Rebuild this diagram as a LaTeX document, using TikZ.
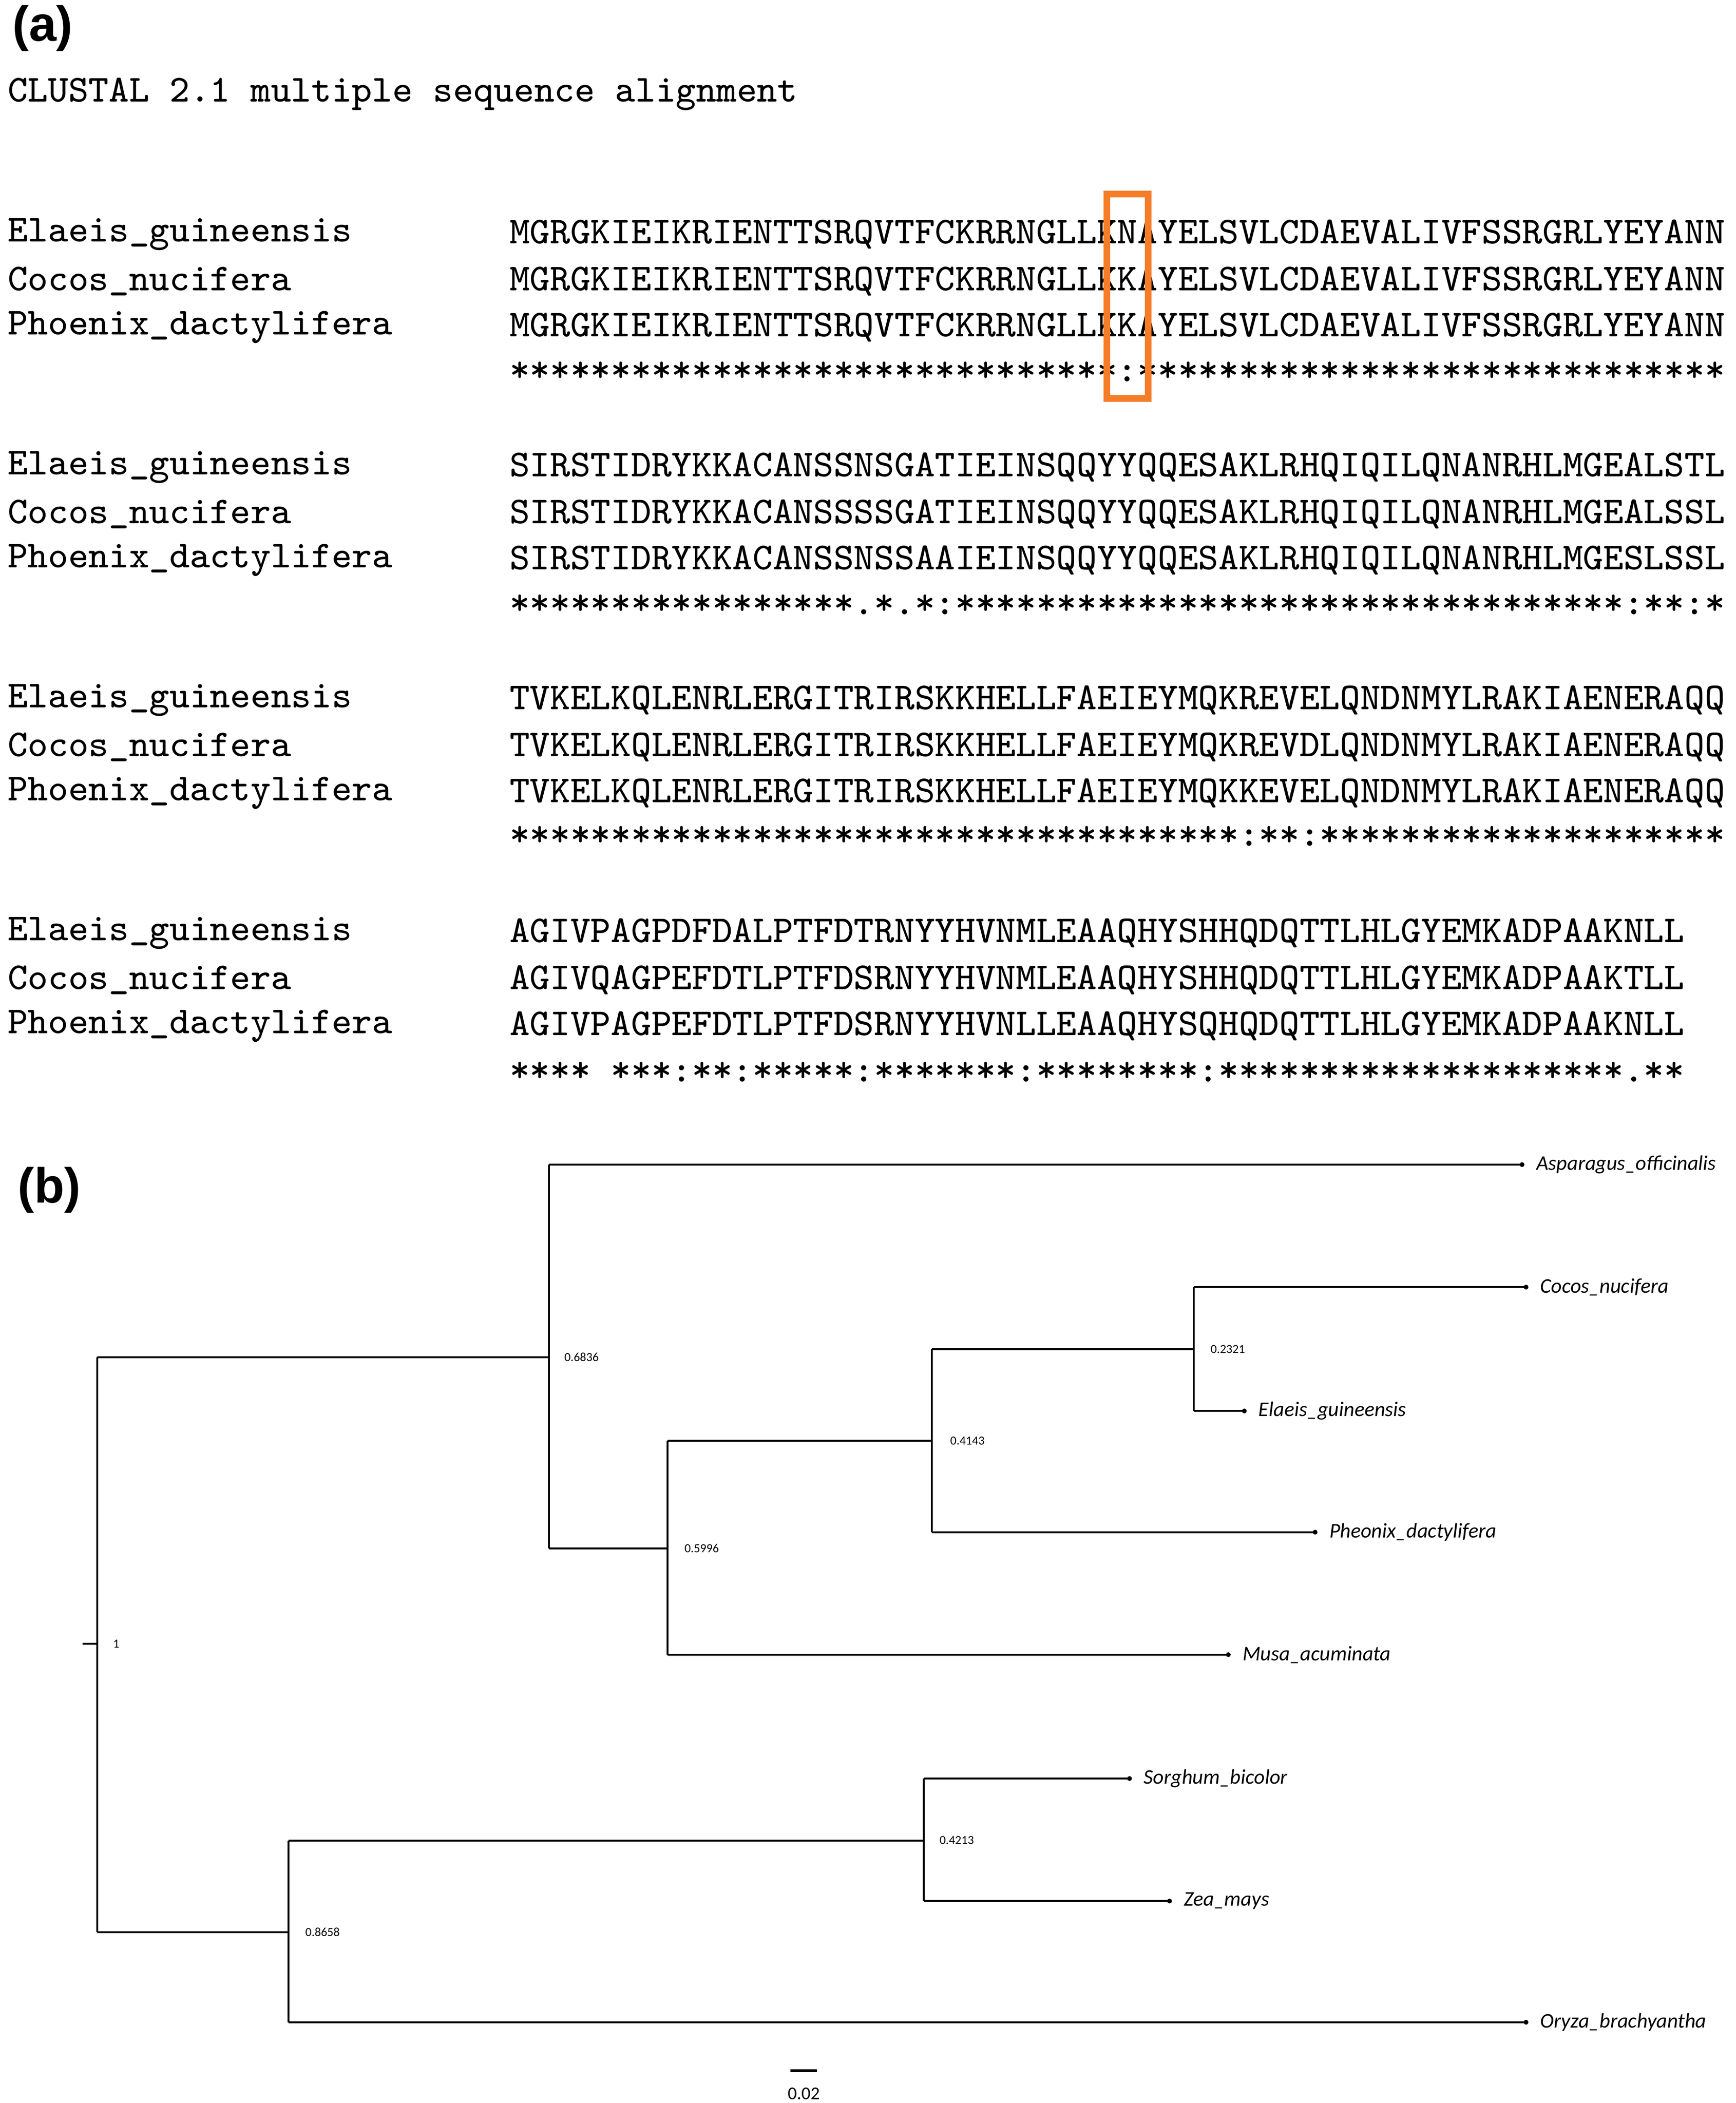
\documentclass[tikz,border=0pt]{standalone}
\usepackage{fontspec}
\setmainfont{Liberation Sans}
\newfontfamily\lblfont{Carlito}
\newfontfamily\hdfont{Liberation Sans}
\definecolor{boxorange}{RGB}{245,125,40}
\begin{document}
\begin{tikzpicture}[x=0.2814pt,y=-0.2838pt,
  seq/.style={anchor=west,inner sep=0pt,font=\ttfamily\fontsize{8.04}{8.04}\selectfont},
  br/.style={line width=0.4pt,black},
  leaf/.style={anchor=west,inner sep=0pt,font=\lblfont\itshape\fontsize{4.4}{4.4}\selectfont},
  sup/.style={anchor=west,inner sep=0pt,font=\lblfont\fontsize{2.6}{2.6}\selectfont},
  tag/.style={inner sep=0pt,font=\hdfont\bfseries\fontsize{10.4}{10.4}\selectfont}]
\useasboundingbox[fill=white] (0,0) rectangle (1300,1562);
\node[tag] (ta) at (32,21) {(a)};
\node[seq] (hdr) at (5,70) {CLUSTAL 2.1 multiple sequence alignment};
% block 1
\node[seq] (n11) at (5,174) {Elaeis\_guineensis};
\node[seq] (n12) at (5,209) {Cocos\_nucifera};
\node[seq] (n13) at (5,243) {Phoenix\_dactylifera};
\node[seq] (s11) at (381,174) {MGRGKIEIKRIENTTSRQVTFCKRRNGLLKNAYELSVLCDAEVALIVFSSRGRLYEYANN};
\node[seq] (s12) at (381,209) {MGRGKIEIKRIENTTSRQVTFCKRRNGLLKKAYELSVLCDAEVALIVFSSRGRLYEYANN};
\node[seq] (s13) at (381,243) {MGRGKIEIKRIENTTSRQVTFCKRRNGLLKKAYELSVLCDAEVALIVFSSRGRLYEYANN};
\node[seq] (c1) at (381,276) {******************************:*****************************};
% block 2
\node[seq] (n21) at (5,347) {Elaeis\_guineensis};
\node[seq] (n22) at (5,382) {Cocos\_nucifera};
\node[seq] (n23) at (5,416) {Phoenix\_dactylifera};
\node[seq] (s21) at (381,347) {SIRSTIDRYKKACANSSNSGATIEINSQQYYQQESAKLRHQIQILQNANRHLMGEALSTL};
\node[seq] (s22) at (381,382) {SIRSTIDRYKKACANSSSSGATIEINSQQYYQQESAKLRHQIQILQNANRHLMGEALSSL};
\node[seq] (s23) at (381,416) {SIRSTIDRYKKACANSSNSSAAIEINSQQYYQQESAKLRHQIQILQNANRHLMGESLSSL};
\node[seq] (c2) at (381,449) {*****************.*.*:*********************************:**:*};
% block 3
\node[seq] (n31) at (5,520) {Elaeis\_guineensis};
\node[seq] (n32) at (5,555) {Cocos\_nucifera};
\node[seq] (n33) at (5,589) {Phoenix\_dactylifera};
\node[seq] (s31) at (381,520) {TVKELKQLENRLERGITRIRSKKHELLFAEIEYMQKREVELQNDNMYLRAKIAENERAQQ};
\node[seq] (s32) at (381,555) {TVKELKQLENRLERGITRIRSKKHELLFAEIEYMQKREVDLQNDNMYLRAKIAENERAQQ};
\node[seq] (s33) at (381,589) {TVKELKQLENRLERGITRIRSKKHELLFAEIEYMQKKEVELQNDNMYLRAKIAENERAQQ};
\node[seq] (c3) at (381,621) {************************************:**:********************};
% block 4
\node[seq] (n41) at (5,693) {Elaeis\_guineensis};
\node[seq] (n42) at (5,728) {Cocos\_nucifera};
\node[seq] (n43) at (5,762) {Phoenix\_dactylifera};
\node[seq] (s41) at (381,693) {AGIVPAGPDFDALPTFDTRNYYHVNMLEAAQHYSHHQDQTTLHLGYEMKADPAAKNLL};
\node[seq] (s42) at (381,728) {AGIVQAGPEFDTLPTFDSRNYYHVNMLEAAQHYSHHQDQTTLHLGYEMKADPAAKTLL};
\node[seq] (s43) at (381,762) {AGIVPAGPEFDTLPTFDSRNYYHVNLLEAAQHYSQHQDQTTLHLGYEMKADPAAKNLL};
\node[seq] (c4) at (381,796) {****\ ***:**:*****:*******:********:********************.**};
\draw[boxorange,line width=1.4pt] (829,144) rectangle (860,296);
% (b)
\node[tag] (tb) at (37,884) {(b)};
\coordinate (root) at (73,1221);
\coordinate (rs) at (62,1221);
\draw[br] (rs) -- (root);
\draw[br] (73,1008) -- (73,1435);
\draw[br] (73,1008) -- (411,1008);
\draw[br] (73,1435) -- (216,1435);
\draw[br] (411,865) -- (411,1150);
\draw[br] (411,1150) -- (500,1150);
\draw[br] (500,1070) -- (500,1229);
\draw[br] (500,1070) -- (698,1070);
\draw[br] (698,1002) -- (698,1138);
\draw[br] (698,1002) -- (894,1002);
\draw[br] (894,956) -- (894,1048);
\draw[br] (216,1367) -- (216,1502);
\draw[br] (216,1367) -- (692,1367);
\draw[br] (692,1321) -- (692,1412);
\foreach \n/\x/\y/\e/\t in {asp/411/865/1140/Asparagus\_officinalis,
   coc/894/956/1143/Cocos\_nucifera, ela/894/1048/932/Elaeis\_guineensis,
   phe/698/1138/985/Pheonix\_dactylifera, mus/500/1229/920/Musa\_acuminata,
   sor/692/1321/846/Sorghum\_bicolor, zea/692/1412/876/Zea\_mays,
   ory/216/1502/1143/Oryza\_brachyantha}{
  \coordinate (\n-s) at (\x,\y);
  \coordinate (\n-e) at (\e,\y);
  \draw[br] (\n-s) -- (\n-e);
  \fill (\n-e) circle[radius=1.8];
  \node[leaf] (\n) at (\e+10,\y) {\t};
}
\node[sup] (b1) at (84,1221) {1};
\node[sup] (b2) at (422,1008) {0.6836};
\node[sup] (b3) at (512,1150) {0.5996};
\node[sup] (b4) at (711,1070) {0.4143};
\node[sup] (b5) at (906,1002) {0.2321};
\node[sup] (b6) at (703,1367) {0.4213};
\node[sup] (b7) at (228,1435) {0.8658};
\coordinate (sb1) at (592,1538);
\coordinate (sb2) at (612,1538);
\draw[line width=0.6pt] (sb1) -- (sb2);
\node[inner sep=0pt,font=\lblfont\fontsize{3.8}{3.8}\selectfont] (sbl) at (602,1555) {0.02};
\end{tikzpicture}
\end{document}
